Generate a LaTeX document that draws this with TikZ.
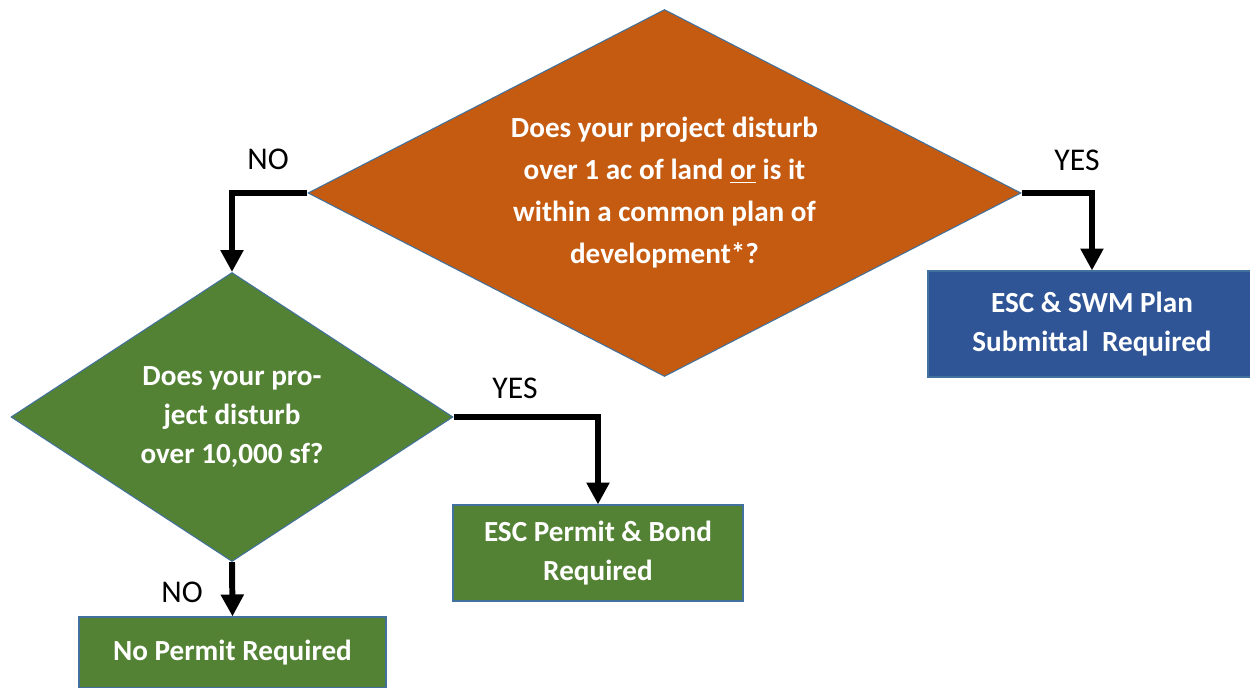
\documentclass[tikz,border=0pt]{standalone}
\usepackage{fontspec}
\setmainfont{Carlito}
\usepackage{tikz}
\usetikzlibrary{shapes.geometric,arrows.meta,positioning}
\definecolor{rust}{HTML}{C55A11}
\definecolor{leaf}{HTML}{548235}
\definecolor{navy}{HTML}{2F5597}
\definecolor{rim}{HTML}{41719C}

\begin{document}
\begin{tikzpicture}[scale=0.2]
\tikzstyle{every node}+=[inner sep=0pt]
\tikzstyle{query}=[diamond, draw=rim, line width=0.6pt, text=white, align=center, font=\bfseries\fontsize{16.6}{22}\selectfont]
\tikzstyle{result}=[rectangle, draw=rim, line width=0.6pt, text=white, align=center, font=\bfseries\fontsize{16.6}{22}\selectfont]
\tikzstyle{flow}=[black, line width=3.4pt, -{Triangle[length=12.5pt,width=12.5pt]}]
\tikzstyle{answer}=[black, font=\fontsize{18}{20}\selectfont]
\useasboundingbox (0,0) rectangle (125,-68.8);
\node [query, fill=rust, aspect=1.94, minimum width=14.26cm, minimum height=7.34cm, font=\bfseries\fontsize{16.6}{23.9}\selectfont] (site) at (66.45,-19.3) {Does your project disturb\\over 1 ac of land \underline{or} is it\\within a common plan of\\development*?};
\node [query, fill=leaf, aspect=1.53, minimum width=8.84cm, minimum height=5.78cm] (area) at (23.2,-41.7) {Does your pro-\\ject disturb\\over 10,000 sf?};
\node [result, fill=navy, minimum width=6.56cm, minimum height=2.12cm] (plan) at (109.2,-32.4) {ESC \& SWM Plan\\Submittal~~Required};
\node [result, fill=leaf, minimum width=5.8cm, minimum height=1.92cm] (bond) at (59.8,-55.3) {ESC Permit \& Bond\\Required};
\node [result, fill=leaf, minimum width=6.14cm, minimum height=1.42cm] (none) at (23.25,-65.25) {No Permit Required};
\draw [flow] (site.west) -| (area.north);
\draw [flow] (site.east) -| (plan.north);
\draw [flow] (area.east) -| (bond.north);
\draw [flow] (area.south) -- (none.north);
\draw (26.8,-15.9) node [answer] {NO};
\draw (107.7,-16.0) node [answer] {YES};
\draw (51.5,-38.8) node [answer] {YES};
\draw (18.2,-59.2) node [answer] {NO};
\end{tikzpicture}
\end{document}
